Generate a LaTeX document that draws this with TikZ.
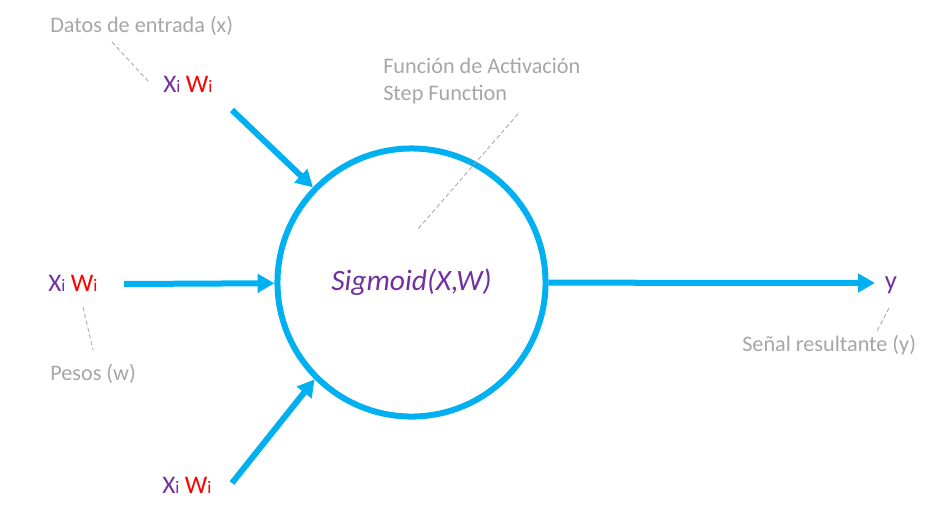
\documentclass[tikz,border=0pt]{standalone}
\usepackage{fontspec}
\setmainfont{Carlito}
\usepackage{xcolor}
\usetikzlibrary{arrows.meta}

\definecolor{neuronblue}{HTML}{00B0F0}
\definecolor{xpurple}{HTML}{7030A0}
\definecolor{wred}{HTML}{FF0000}
\definecolor{notegray}{HTML}{A6A6A6}

% input label: x_i w_i
\newcommand{\xwlabel}{%
  \textcolor{xpurple}{\fontsize{18}{21}\selectfont X\fontsize{12.5}{14}\selectfont i}%
  {\fontsize{17}{20}\selectfont\ }%
  \textcolor{wred}{\fontsize{18}{21}\selectfont W\fontsize{12.5}{14}\selectfont i}}

\begin{document}
\begin{tikzpicture}[x=0.025cm,y=-0.025cm,
  arrowline/.style={line width=0.15cm, neuronblue, -{Triangle[length=0.42cm,width=0.45cm]}},
  leader/.style={notegray, line width=0.6pt, dash pattern=on 3pt off 2pt},
  note/.style={font=\fontsize{15.8}{18.5}\selectfont, text=notegray, inner sep=0pt},
  inlabel/.style={inner sep=0pt, anchor=base west}]
\useasboundingbox (0,0) rectangle (940,509);

% neuron
\node [circle, draw=neuronblue, line width=0.15cm, minimum size=6.7cm, inner sep=0pt,
       font=\fontsize{21}{25}\selectfont\itshape, text=xpurple] (neuron) at (411.5,282.5) {Sigmoid(X,W)};

% inputs
\node [inlabel] (in1) at (163,92) {\xwlabel};
\node [inlabel] (in2) at (48,291) {\xwlabel};
\node [inlabel] (in3) at (162,493) {\xwlabel};
\coordinate (s1) at (232,110);
\coordinate (s2) at (124,284);
\coordinate (s3) at (232,483);
\draw [arrowline] (s1) -- (neuron.136);
\draw [arrowline] (s2) -- (neuron);
\draw [arrowline] (s3) -- (neuron.225);

% output
\coordinate (out) at (875,283);
\node [inner sep=0pt, anchor=base, font=\fontsize{19}{22}\selectfont, text=xpurple] (y) at (891,289) {y};
\draw [arrowline] (neuron) -- (out);

% notes
\node [note, anchor=base west] (datos) at (50,32) {Datos de entrada (x)};
\node [note, anchor=base west, align=left] (funcion) at (383,100) {Función de Activación\\Step Function};
\node [note, anchor=base west] (pesos) at (50,380) {Pesos (w)};
\node [note, anchor=base west] (senal) at (742,351) {Señal resultante (y)};

% leaders
\coordinate (d1) at (112,42);  \coordinate (d2) at (148,81);
\coordinate (f1) at (518,114); \coordinate (f2) at (417,230);
\coordinate (p1) at (83,307);  \coordinate (p2) at (93,350);
\coordinate (r1) at (889,308); \coordinate (r2) at (877,331);
\draw [leader] (d1) -- (d2);
\draw [leader] (f1) -- (f2);
\draw [leader] (p1) -- (p2);
\draw [leader] (r1) -- (r2);
\end{tikzpicture}
\end{document}
